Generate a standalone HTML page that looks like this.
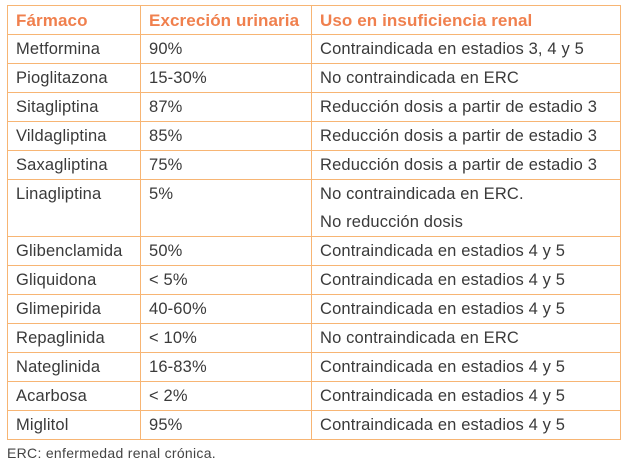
<!DOCTYPE html>
<html><head><meta charset="utf-8"><style>
body{margin:0;width:628px;height:465px;background:#fff;font-family:"Liberation Sans",sans-serif;position:relative;overflow:hidden}
table{position:absolute;left:7px;top:5px;width:614px;border-collapse:collapse;table-layout:fixed}
td,th{border:1.5px solid #f7b574;padding:0 0 0 8px;font-size:16.5px;letter-spacing:0.15px;color:#3a3a3a;text-align:left;vertical-align:middle;height:28px;font-weight:normal;line-height:27px;white-space:nowrap}
th{color:#f0804e;font-weight:bold;font-size:17px;letter-spacing:0.1px}
td.d{vertical-align:top;line-height:28px}
.fn{position:absolute;left:7px;top:445px;font-size:14px;letter-spacing:0.3px;color:#444}
</style></head><body>
<table>
<colgroup><col style="width:133px"><col style="width:171px"><col></colgroup>
<tr><th>Fármaco</th><th>Excreción urinaria</th><th>Uso en insuficiencia renal</th></tr>
<tr><td>Metformina</td><td>90%</td><td>Contraindicada en estadios 3, 4 y 5</td></tr>
<tr><td>Pioglitazona</td><td>15-30%</td><td>No contraindicada en ERC</td></tr>
<tr><td>Sitagliptina</td><td>87%</td><td>Reducción dosis a partir de estadio 3</td></tr>
<tr><td>Vildagliptina</td><td>85%</td><td>Reducción dosis a partir de estadio 3</td></tr>
<tr><td>Saxagliptina</td><td>75%</td><td>Reducción dosis a partir de estadio 3</td></tr>
<tr><td class="d" style="height:55px">Linagliptina</td><td class="d">5%</td><td class="d">No contraindicada en ERC.<br>No reducción dosis</td></tr>
<tr><td>Glibenclamida</td><td>50%</td><td>Contraindicada en estadios 4 y 5</td></tr>
<tr><td>Gliquidona</td><td>&lt; 5%</td><td>Contraindicada en estadios 4 y 5</td></tr>
<tr><td>Glimepirida</td><td>40-60%</td><td>Contraindicada en estadios 4 y 5</td></tr>
<tr><td>Repaglinida</td><td>&lt; 10%</td><td>No contraindicada en ERC</td></tr>
<tr><td>Nateglinida</td><td>16-83%</td><td>Contraindicada en estadios 4 y 5</td></tr>
<tr><td>Acarbosa</td><td>&lt; 2%</td><td>Contraindicada en estadios 4 y 5</td></tr>
<tr><td>Miglitol</td><td>95%</td><td>Contraindicada en estadios 4 y 5</td></tr>
</table>
<div class="fn">ERC: enfermedad renal crónica.</div>
</body></html>
